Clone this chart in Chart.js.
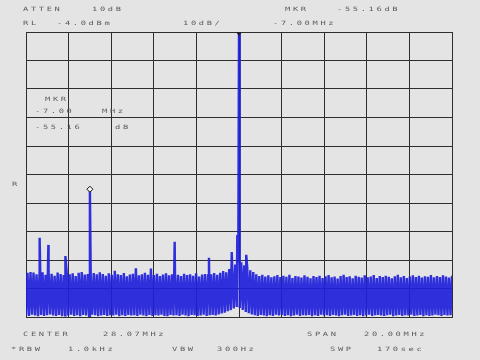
<!DOCTYPE html>
<html><head><meta charset="utf-8">
<script src="https://cdn.jsdelivr.net/npm/chart.js@4/dist/chart.umd.min.js"></script>
<style>html,body{margin:0;padding:0;background:#e4e4e4;}canvas{display:block;}</style>
</head><body>
<canvas id="c" width="480" height="360"></canvas>
<script>
// ---- instrument settings ----
const centerMHz = 28.07;
const spanMHz = 20.00;
const refLevelDbm = -4.0;
const dbPerDiv = 10;

// grid (10 x 10 divisions)
const xTicks = [18.07, 20.07, 22.07, 24.07, 26.07, 28.07, 30.07, 32.07, 34.07, 36.07, 38.07];
const yTicks = [-104, -94, -84, -74, -64, -54, -44, -34, -24, -14, -4];

// noise trace: local maxima and minima of the sweep, left to right (dBm)
const noisePeaks = [
-88.5,-88.2,-88.4,-89.0,-88.6,-88.3,-89.2,-88.0,-88.8,-89.5,
-88.4,-88.9,-89.3,-88.1,-89.0,-88.7,-89.6,-88.5,-88.2,-89.1,
-88.9,-89.4,-88.6,-89.0,-88.3,-88.9,-89.5,-88.7,-89.2,-87.8,
-89.0,-89.3,-88.6,-89.7,-89.1,-88.8,-86.9,-89.4,-89.0,-88.5,
-89.2,-87.0,-89.3,-88.8,-89.6,-89.1,-88.7,-89.4,-89.0,-88.9,
-89.2,-89.6,-88.8,-89.3,-89.0,-89.5,-88.7,-89.8,-89.1,-88.9,
-89.4,-89.0,-88.6,-89.2,-88.5,-87.9,-88.3,-87.2,-86.5,-85.6,
-85.0,-84.8,-85.9,-86.8,-87.6,-88.2,-89.0,-89.6,-89.2,-89.8,
-89.4,-90.1,-89.7,-89.3,-90.0,-89.5,-89.9,-89.2,-90.3,-89.6,
-89.8,-90.2,-89.4,-89.9,-90.4,-89.6,-90.0,-89.5,-90.3,-89.7,
-89.3,-90.1,-89.8,-90.5,-89.6,-89.2,-90.0,-89.7,-90.4,-89.5,
-89.9,-90.2,-89.4,-90.1,-89.8,-89.3,-90.3,-89.6,-90.0,-89.5,
-89.9,-90.4,-89.7,-89.2,-90.1,-89.6,-90.3,-89.8,-89.4,-90.0,
-89.5,-90.2,-89.7,-89.9,-89.3,-90.1,-89.6,-90.0,-89.4,-89.8,
-90.2,-89.5
];
const noiseValleys = [
-103.4,-103.6,-103.2,-103.5,-103.7,-103.3,-103.6,-103.4,-103.1,-103.5,
-103.6,-103.3,-103.7,-103.4,-103.5,-103.2,-103.6,-103.4,-103.7,-103.3,
-103.5,-103.6,-103.2,-103.4,-103.7,-103.5,-103.3,-103.6,-103.4,-103.5,
-103.2,-103.7,-103.4,-103.6,-103.3,-103.5,-103.4,-103.6,-103.2,-103.5,
-103.7,-103.3,-103.6,-103.4,-103.5,-103.2,-103.6,-103.7,-103.3,-103.5,
-103.4,-103.6,-103.2,-103.5,-103.7,-103.3,-103.4,-103.6,-103.5,-103.2,
-103.6,-103.4,-103.3,-103.5,-103.1,-102.8,-102.5,-102.0,-101.6,-101.0,
-100.5,-100.8,-101.5,-102.2,-102.7,-103.1,-103.4,-103.6,-103.3,-103.5,
-103.7,-103.4,-103.6,-103.2,-103.5,-103.3,-103.6,-103.4,-103.7,-103.5,
-103.2,-103.6,-103.4,-103.5,-103.3,-103.7,-103.4,-103.6,-103.2,-103.5,
-103.4,-103.6,-103.3,-103.5,-103.7,-103.4,-103.2,-103.6,-103.5,-103.3,
-103.6,-103.4,-103.7,-103.5,-103.2,-103.6,-103.4,-103.3,-103.5,-103.6,
-103.4,-103.2,-103.7,-103.5,-103.3,-103.6,-103.4,-103.5,-103.2,-103.6,
-103.5,-103.3,-103.7,-103.4,-103.6,-103.5,-103.2,-103.4,-103.6,-103.3,
-103.5,-103.4
];

// discrete signals (MHz, dBm)
const spurFreqs  = [18.71, 19.12, 19.92, 21.07, 25.05, 26.66, 27.73, 27.99, 28.07, 28.41];
const spurLevels = [-76.2, -78.7, -82.6, -59.16, -77.6, -83.2, -81.2, -75.2, -4.0, -82.2];

// markers
const markerFreqs  = [28.07, 21.07];
const markerLevels = [-4.0, -59.16];

// annotation texts
const headerTexts = ['ATTEN', '10dB', 'MKR', '-55.16dB', 'RL', '-4.0dBm', '10dB/', '-7.00MHz'];
const footerTexts = ['CENTER', '28.07MHz', 'SPAN', '20.00MHz', '*RBW', '1.0kHz', 'VBW', '300Hz', 'SWP', '170sec'];
const panelTexts  = ['MKR', '-7.00', 'MHz', '-55.16', 'dB', 'R'];

// ---- build trace ----
const startMHz = centerMHz - spanMHz / 2;
const nPts = noisePeaks.length * 2;
const trace = [];
for (let i = 0; i < noisePeaks.length; i++) {
  trace.push({x: startMHz + (2 * i) * spanMHz / (nPts - 1), y: noiseValleys[i]});
  trace.push({x: startMHz + (2 * i + 1) * spanMHz / (nPts - 1), y: noisePeaks[i]});
}
spurFreqs.forEach((f, k) => trace.push({x: f, y: spurLevels[k]}));
trace.sort((a, b) => a.x - b.x);

const textPos = {
  header: [[23,11],[92,11],[285,11],[337,11],[23,25],[57,25],[183,25],[273,25]],
  footer: [[23,336],[103,336],[307,336],[364,336],[11,351],[68,351],[172,351],[217,351],[330,351],[377,351]],
  panel: [[45,101],[35,113],[102,113],[35,129],[115,129],[12,186]]
};

const bgPlugin = {
  id: 'bg',
  beforeDraw(chart) {
    const ctx = chart.ctx;
    ctx.save();
    ctx.fillStyle = '#e4e4e4';
    ctx.fillRect(0, 0, chart.width, chart.height);
    ctx.restore();
  }
};

function drawSpaced(ctx, s, x, y) {
  const pitch = 7.9;
  for (let i = 0; i < s.length; i++) {
    ctx.save();
    ctx.translate(x + i * pitch, y);
    ctx.scale(1.25, 0.85);
    ctx.fillText(s[i], 0, 0);
    ctx.restore();
  }
}

const annPlugin = {
  id: 'ann',
  afterDraw(chart) {
    const ctx = chart.ctx;
    ctx.save();
    ctx.font = '7px "DejaVu Sans Mono", "Liberation Mono", monospace';
    ctx.fillStyle = '#5c5c5c';
    ctx.textBaseline = 'alphabetic';
    headerTexts.forEach((t, i) => drawSpaced(ctx, t, textPos.header[i][0], textPos.header[i][1]));
    footerTexts.forEach((t, i) => drawSpaced(ctx, t, textPos.footer[i][0], textPos.footer[i][1]));
    panelTexts.forEach((t, i) => drawSpaced(ctx, t, textPos.panel[i][0], textPos.panel[i][1]));
    ctx.restore();
  }
};

const markerPlugin = {
  id: 'mk',
  afterDatasetsDraw(chart) {
    const ctx = chart.ctx;
    const xs = chart.scales.x, ys = chart.scales.y;
    ctx.save();
    // main marker: down-pointing filled triangle
    let px = xs.getPixelForValue(markerFreqs[0]), py = ys.getPixelForValue(markerLevels[0]);
    ctx.fillStyle = '#222';
    ctx.beginPath();
    ctx.moveTo(px - 3, py);
    ctx.lineTo(px + 3, py);
    ctx.lineTo(px, py + 4);
    ctx.closePath();
    ctx.fill();
    // delta marker: open diamond
    px = xs.getPixelForValue(markerFreqs[1]); py = ys.getPixelForValue(markerLevels[1]);
    ctx.strokeStyle = '#111';
    ctx.fillStyle = '#f4f4f4';
    ctx.lineWidth = 1;
    ctx.beginPath();
    ctx.moveTo(px, py - 3);
    ctx.lineTo(px + 3, py);
    ctx.lineTo(px, py + 3);
    ctx.lineTo(px - 3, py);
    ctx.closePath();
    ctx.fill();
    ctx.stroke();
    ctx.restore();
  }
};

new Chart(document.getElementById('c'), {
  type: 'line',
  data: {
    datasets: [{
      data: trace,
      borderColor: 'rgba(32,32,218,0.92)',
      borderWidth: 2.4,
      pointRadius: 0,
      tension: 0,
      fill: false
    }]
  },
  options: {
    responsive: false,
    animation: false,
    devicePixelRatio: 1,
    parsing: false,
    layout: {padding: {left: 26, right: 28, top: 32, bottom: 43}},
    plugins: {legend: {display: false}, tooltip: {enabled: false}},
    scales: {
      x: {
        type: 'linear',
        min: startMHz,
        max: startMHz + spanMHz,
        afterBuildTicks: s => { s.ticks = xTicks.map(v => ({value: v})); },
        ticks: {display: false},
        grid: {color: '#2e2e2e', lineWidth: 1, drawTicks: false},
        border: {display: true, color: '#2e2e2e'}
      },
      y: {
        type: 'linear',
        min: refLevelDbm - 10 * dbPerDiv,
        max: refLevelDbm,
        afterBuildTicks: s => { s.ticks = yTicks.map(v => ({value: v})); },
        ticks: {display: false},
        grid: {color: '#2e2e2e', lineWidth: 1, drawTicks: false},
        border: {display: true, color: '#2e2e2e'}
      }
    }
  },
  plugins: [bgPlugin, markerPlugin, annPlugin]
});
</script>
</body></html>
